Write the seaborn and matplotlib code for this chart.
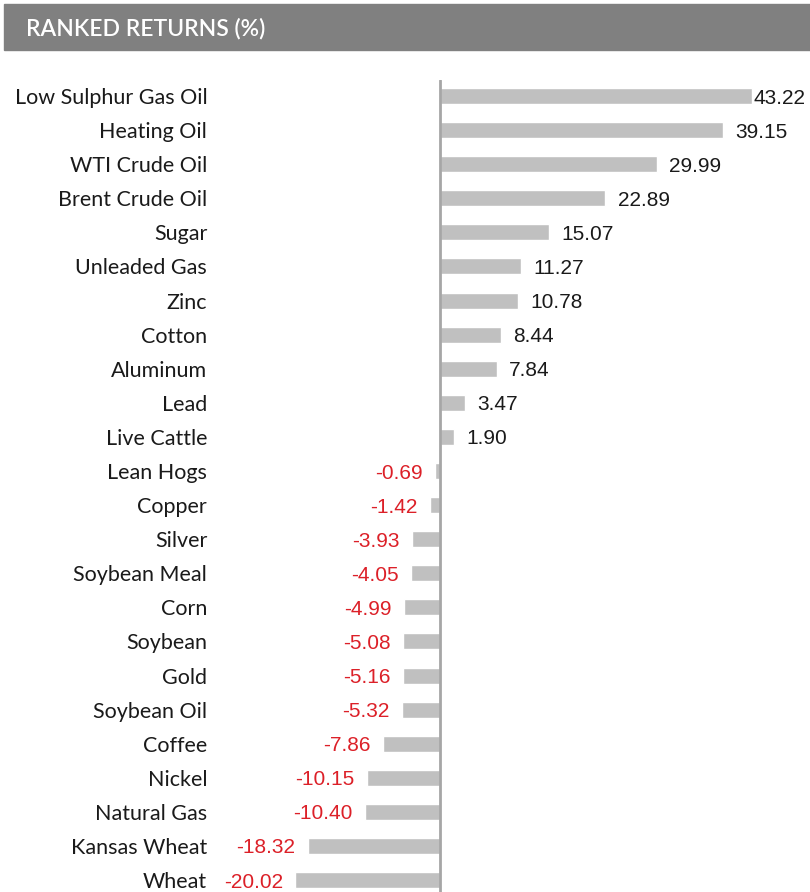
import numpy as np
import pandas as pd
import matplotlib
matplotlib.use("Agg")
import matplotlib.pyplot as plt
import seaborn as sns

# podaci procitani sa slike
commodities = ['Low Sulphur Gas Oil', 'Heating Oil', 'WTI Crude Oil', 'Brent Crude Oil',
               'Sugar', 'Unleaded Gas', 'Zinc', 'Cotton', 'Aluminum', 'Lead',
               'Live Cattle', 'Lean Hogs', 'Copper', 'Silver', 'Soybean Meal', 'Corn',
               'Soybean', 'Gold', 'Soybean Oil', 'Coffee', 'Nickel', 'Natural Gas',
               'Kansas Wheat', 'Wheat']
returns = [43.22, 39.15, 29.99, 22.89, 15.07, 11.27, 10.78, 8.44, 7.84, 3.47,
           1.90, -0.69, -1.42, -3.93, -4.05, -4.99, -5.08, -5.16, -5.32, -7.86,
           -10.15, -10.40, -18.32, -20.02]
title = 'RANKED RETURNS (%)'

df = pd.DataFrame({'name': commodities, 'ret': returns})

sns.set_style('white')
plt.rcParams['font.family'] = ['Lato', 'DejaVu Sans']

fig = plt.figure(figsize=(8.1, 8.92), dpi=100)
ax = fig.add_axes([285 / 810, 0.0, 525 / 810, 812 / 892])

sns.barplot(data=df, y='name', x='ret', orient='h', color='#c0c0c0',
            saturation=1, width=0.47, ax=ax)

ax.set_xlim(-21.47, 51.25)
ax.set_ylim(23.35, -0.47)
ax.axvline(0, color='#a6a6a6', lw=2, zorder=3)
sns.despine(ax=ax, left=True, bottom=True)
ax.set_xticks([])
ax.set_xlabel('')
ax.set_ylabel('')
ax.tick_params(axis='y', length=0, pad=56, labelsize=15.5, labelcolor='#1a1a1a')

# vrednosti na krajevima barova
cont = ax.containers[0]
texts = ax.bar_label(cont, labels=[f'{v:.2f}' for v in returns], padding=9,
                     fontsize=15, family='Liberation Sans')
for t, v in zip(texts, returns):
    t.set_color('#1a1a1a' if v >= 0 else '#dc2028')
    t.set_va('center_baseline')
    # najveca vrednost ne staje pa je zalepljena uz bar
    if v == max(returns):
        t.xyann = (1, t.xyann[1])

# naslov u sivoj traci
fig.patches.append(plt.Rectangle((4 / 810, 1 - 50 / 892), 806 / 810, 46 / 892,
                                 transform=fig.transFigure, color='#808080', zorder=0))
fig.text(26 / 810, 1 - 29 / 892, title, color='white', fontsize=16.5,
         family='Lato', fontweight='semibold', va='center', ha='left')

fig.savefig('out.png', dpi=100)
